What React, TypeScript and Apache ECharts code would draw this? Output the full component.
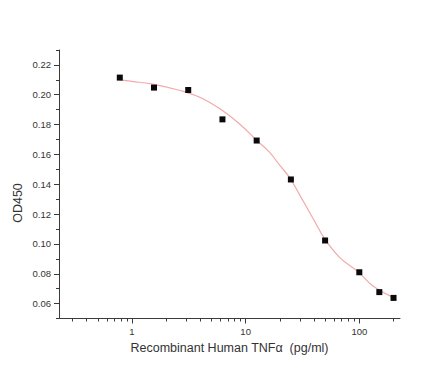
import React, { useEffect, useRef } from "react";
import * as echarts from "echarts";

// Measured data points (Recombinant Human TNFα concentration, pg/ml) vs OD450
const concentrations = [0.78125, 1.5625, 3.125, 6.25, 12.5, 25, 50, 100, 150, 200];
const od450 = [0.2115, 0.2048, 0.2032, 0.1835, 0.1693, 0.1432, 0.1023, 0.081, 0.0677, 0.0638];

// Fitted curve
const fitX = [0.78, 1, 1.56, 2.6, 3.9, 5.9, 8.8, 12.4, 16.2, 20, 24.3, 29.7, 38.6, 50, 67, 100, 130, 200];
const fitY = [0.21, 0.209, 0.207, 0.203, 0.1985, 0.1907, 0.1806, 0.1697, 0.1615, 0.1526, 0.1446, 0.1332, 0.1179, 0.103, 0.091, 0.0806, 0.0721, 0.064];

// Axis ticks
const xMajorTicks = [1, 10, 100];
const xMinorTicks = [0.3, 0.4, 0.5, 0.6, 0.7, 0.8, 0.9, 2, 3, 4, 5, 6, 7, 8, 9, 20, 30, 40, 50, 60, 70, 80, 90, 200];
const yMajorTicks = [0.06, 0.08, 0.1, 0.12, 0.14, 0.16, 0.18, 0.2, 0.22];
const yMinorTicks = [0.05, 0.07, 0.09, 0.11, 0.13, 0.15, 0.17, 0.19, 0.21, 0.23];

const X_MIN = 0.228;
const X_MAX = 228;
const Y_MIN = 0.05;
const Y_MAX = 0.23;

const FONT = "'Liberation Sans', Arial, sans-serif";
const AXIS_COLOR = "#3a3a3a";
const TEXT_COLOR = "#333";

export default function App() {
  const ref = useRef<HTMLDivElement>(null);

  useEffect(() => {
    if (!ref.current) return;
    const chart = echarts.init(ref.current, undefined, { renderer: "svg" });

    const option: any = {
      animation: false,
      backgroundColor: "#ffffff",
      textStyle: { fontFamily: FONT },
      grid: { left: 59, right: 46, top: 50, bottom: 55.5, containLabel: false },
      xAxis: [
        {
          type: "log",
          logBase: 10,
          min: X_MIN,
          max: X_MAX,
          position: "bottom",
          name: "Recombinant Human TNFα  (pg/ml)",
          nameLocation: "middle",
          nameGap: 21,
          nameTextStyle: { fontSize: 12.5, color: TEXT_COLOR, fontFamily: FONT },
          axisLine: { show: true, lineStyle: { color: AXIS_COLOR, width: 1 } },
          axisTick: {
            show: true,
            inside: false,
            length: 5,
            customValues: xMajorTicks,
            lineStyle: { color: AXIS_COLOR, width: 1 },
          },
          axisLabel: {
            show: true,
            customValues: xMajorTicks,
            formatter: (v: number) => String(Math.round(v)),
            fontSize: 9.5,
            color: TEXT_COLOR,
            margin: 8,
            fontFamily: FONT,
          },
          splitLine: { show: false },
          minorSplitLine: { show: false },
        },
        {
          type: "log",
          logBase: 10,
          min: X_MIN,
          max: X_MAX,
          position: "bottom",
          offset: 0,
          axisLine: { show: false },
          axisTick: {
            show: true,
            inside: false,
            length: 3,
            customValues: xMinorTicks,
            lineStyle: { color: AXIS_COLOR, width: 1 },
          },
          axisLabel: { show: false },
          splitLine: { show: false },
        },
      ],
      yAxis: [
        {
          type: "value",
          min: Y_MIN,
          max: Y_MAX,
          position: "left",
          axisLine: { show: true, lineStyle: { color: AXIS_COLOR, width: 1 } },
          axisTick: {
            show: true,
            inside: false,
            length: 5,
            customValues: yMajorTicks,
            lineStyle: { color: AXIS_COLOR, width: 1 },
          },
          axisLabel: {
            show: true,
            customValues: yMajorTicks,
            formatter: (v: number) => v.toFixed(2),
            fontSize: 9.5,
            color: TEXT_COLOR,
            margin: 8,
            fontFamily: FONT,
          },
          splitLine: { show: false },
        },
        {
          type: "value",
          min: Y_MIN,
          max: Y_MAX,
          position: "left",
          offset: 0,
          axisLine: { show: false },
          axisTick: {
            show: true,
            inside: false,
            length: 3,
            customValues: yMinorTicks,
            lineStyle: { color: AXIS_COLOR, width: 1 },
          },
          axisLabel: { show: false },
          splitLine: { show: false },
        },
      ],
      graphic: [
        {
          type: "text",
          x: 18,
          y: 203,
          rotation: Math.PI / 2,
          style: {
            text: "OD450",
            fontSize: 12.5,
            fontFamily: FONT,
            fill: TEXT_COLOR,
            align: "center",
            verticalAlign: "middle",
          },
        },
      ],
      series: [
        {
          type: "line",
          xAxisIndex: 0,
          yAxisIndex: 0,
          data: fitX.map((x, i) => [x, fitY[i]]),
          smooth: 0.4,
          showSymbol: false,
          symbol: "none",
          lineStyle: { color: "#f2a9a9", width: 1.2 },
          z: 2,
          silent: true,
        },
        {
          type: "scatter",
          xAxisIndex: 0,
          yAxisIndex: 0,
          data: concentrations.map((x, i) => [x, od450[i]]),
          symbol: "rect",
          symbolSize: 6,
          itemStyle: { color: "#0a0a0a", opacity: 1 },
          z: 3,
        },
      ],
    };

    chart.setOption(option);
    return () => {
      chart.dispose();
    };
  }, []);

  return (
    <div
      ref={ref}
      style={{ position: "fixed", left: 0, top: 0, width: 446, height: 374, background: "#fff" }}
    />
  );
}
